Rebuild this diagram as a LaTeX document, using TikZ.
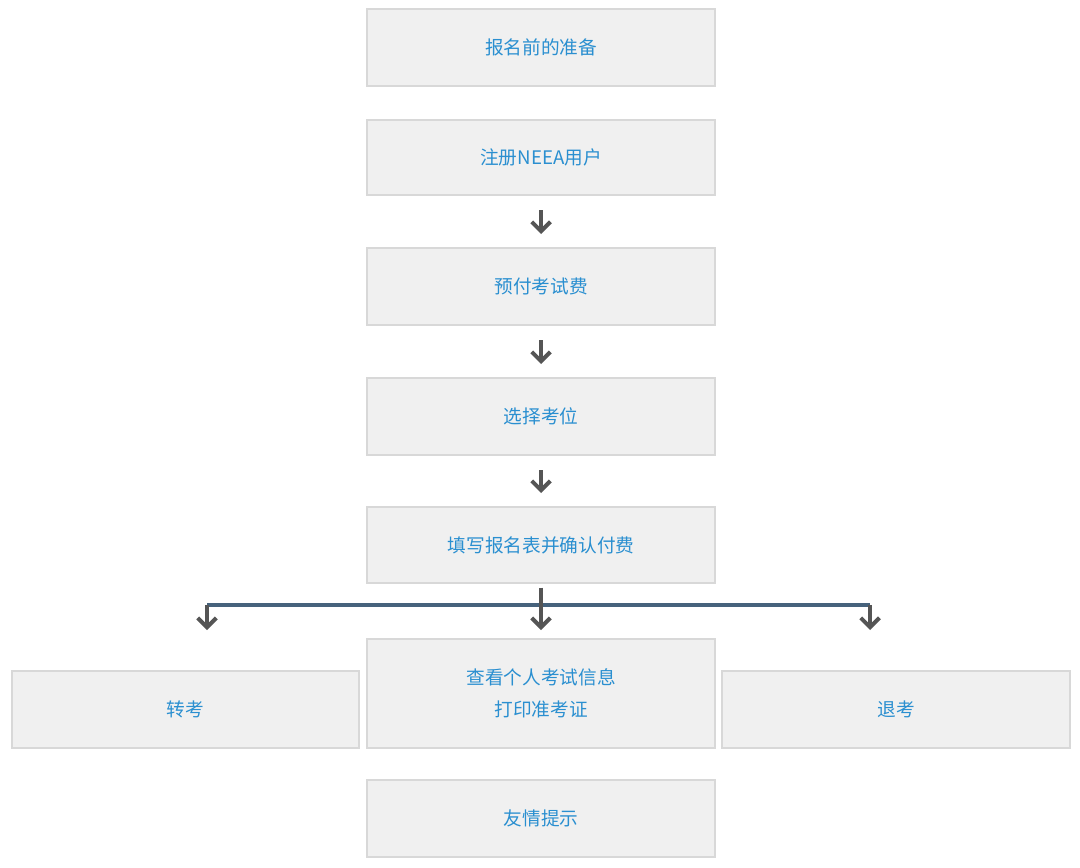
\documentclass[tikz,border=0pt]{standalone}
\usepackage{fontspec}
\newfontfamily\cjk{Noto Sans CJK SC}
\usetikzlibrary{arrows.meta}
\definecolor{boxfill}{HTML}{F0F0F0}
\definecolor{boxline}{HTML}{D8D8D8}
\definecolor{txt}{HTML}{2A8FD0}
\definecolor{arr}{HTML}{555555}
\definecolor{bar}{HTML}{46627C}
\begin{document}
\begin{tikzpicture}[x=0.75pt,y=-0.75pt,
  box/.style={draw=boxline,fill=boxfill,line width=1pt,minimum width=348*0.75pt,inner sep=0pt,
    font=\cjk\fontsize{14}{24}\selectfont,text=txt,align=center},
  arrw/.style={draw=arr,line width=3.4pt,-{Straight Barb[length=7pt,width=14pt,line width=3pt]}}]
\useasboundingbox (0,0) rectangle (1080,867);
\node[box,minimum height=77*0.75pt] (b1) at (541,47.5) {报名前的准备};
\node[box,minimum height=75*0.75pt] (b2) at (541,157.5) {注册NEEA用户};
\node[box,minimum height=77*0.75pt] (b3) at (541,286.5) {预付考试费};
\node[box,minimum height=77*0.75pt] (b4) at (541,416.5) {选择考位};
\node[box,minimum height=76*0.75pt] (b5) at (541,545) {填写报名表并确认付费};
\node[box,minimum height=109*0.75pt] (b6) at (541,693.5) {查看个人考试信息\\打印准考证};
\node[box,minimum height=77*0.75pt,minimum width=347*0.75pt] (bl) at (185.5,709.5) {转考};
\node[box,minimum height=77*0.75pt] (br) at (896,709.5) {退考};
\node[box,minimum height=77*0.75pt] (b7) at (541,818.5) {友情提示};
\draw[arrw,shorten <=11pt,shorten >=10pt] (b2.south) -- (b3.north);
\draw[arrw,shorten <=11pt,shorten >=10pt] (b3.south) -- (b4.north);
\draw[arrw,shorten <=11pt,shorten >=10pt] (b4.south) -- (b5.north);
\coordinate (hl) at (207,605);
\coordinate (hr) at (870,605);
\coordinate (al) at (207,630);
\coordinate (ar) at (870,630);
\coordinate (am) at (541,630);
\draw[bar,line width=2.6pt] (hl) -- (hr);
\draw[arrw,shorten <=3pt] (b5.south) -- (am);
\draw[arrw] (hl) -- (al);
\draw[arrw] (hr) -- (ar);
\end{tikzpicture}
\end{document}
